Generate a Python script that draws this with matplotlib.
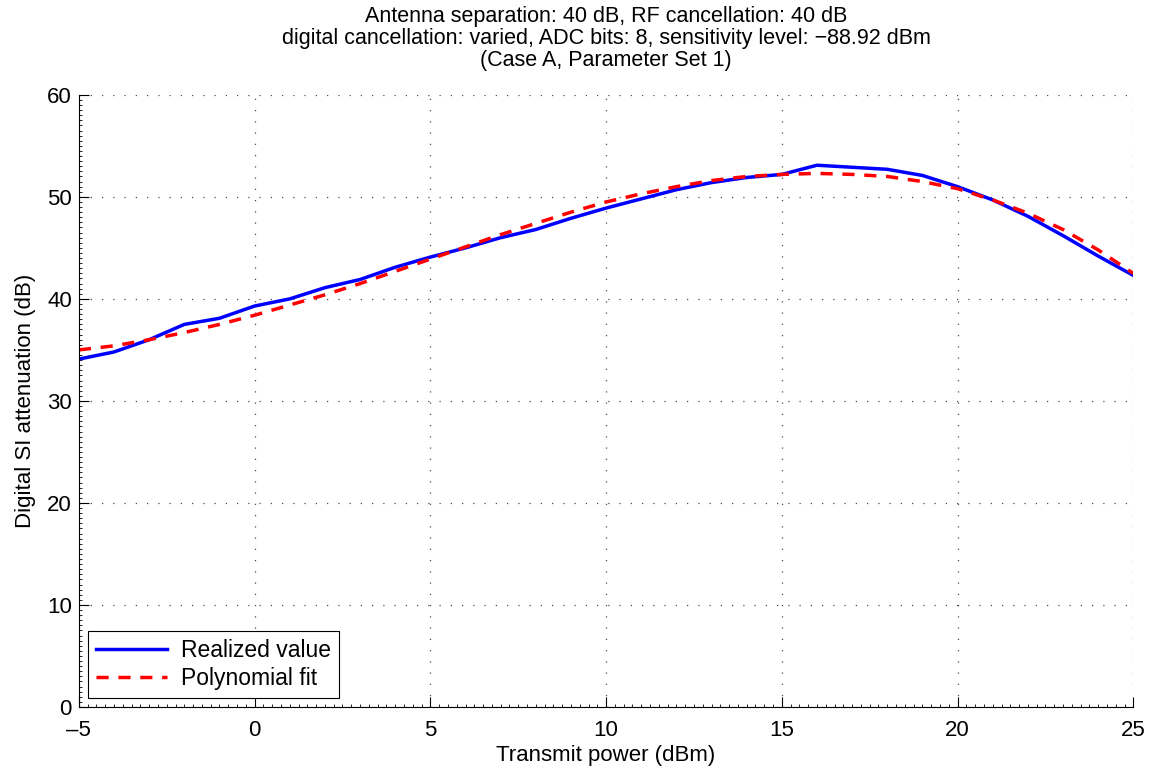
import matplotlib
matplotlib.use("Agg")
import matplotlib.pyplot as plt
from matplotlib.ticker import MultipleLocator

plt.rcParams["font.family"] = ["Liberation Sans", "DejaVu Sans"]

# potencia de transmissao (dBm)
potencia = list(range(-5, 26))

# valor realizado (dB)
realizado = [34.1, 34.8, 36.0, 37.5, 38.1, 39.3, 40.0, 41.1, 41.9, 43.1, 44.1,
             45.0, 46.0, 46.8, 47.9, 48.9, 49.8, 50.7, 51.4, 51.9, 52.2,
             53.1, 52.9, 52.7, 52.1, 51.0, 49.7, 48.1, 46.2, 44.2, 42.3]

# ajuste polinomial (dB)
ajuste = [35.0, 35.4, 36.0, 36.7, 37.5, 38.4, 39.4, 40.4, 41.5, 42.7, 43.9,
          45.1, 46.3, 47.4, 48.5, 49.5, 50.3, 51.0, 51.6, 52.0, 52.2,
          52.3, 52.2, 52.0, 51.5, 50.8, 49.7, 48.4, 46.8, 44.8, 42.5]

titulo = ("Antenna separation: 40 dB, RF cancellation: 40 dB\n"
          "digital cancellation: varied, ADC bits: 8, sensitivity level: \u221288.92 dBm\n"
          "(Case A, Parameter Set 1)")

tam = 16

fig = plt.figure(figsize=(11.6, 7.71), dpi=100)
ax = fig.add_axes([0.068, 0.083, 0.909, 0.794])

ax.plot(potencia, realizado, color="#0000ff", linewidth=2.5, label="Realized value")
ax.plot(potencia, ajuste, color="#ff0000", linewidth=2.5, linestyle=(0, (3.5, 2.8)),
        label="Polynomial fit")

ax.set_xlim(-5, 25)
ax.set_ylim(0, 60)
ax.set_xticks(range(-5, 26, 5))
ax.set_yticks(range(0, 61, 10))
ax.set_xticklabels([str(v).replace("-", "\u2013") for v in range(-5, 26, 5)])
ax.xaxis.set_minor_locator(MultipleLocator(0.25))
ax.yaxis.set_minor_locator(MultipleLocator(0.5))
ax.tick_params(which="major", direction="in", length=7.5, width=0.8, labelsize=tam,
               top=False, right=False, pad=5)
ax.tick_params(axis="x", which="major", pad=9)
ax.tick_params(which="minor", direction="in", length=2.5, width=0.6,
               top=False, right=False)

ax.spines["top"].set_visible(False)
ax.spines["right"].set_visible(False)
ax.grid(True, which="major", color="0.3", linestyle=(0, (1, 8)), linewidth=0.9)

ax.set_xlabel("Transmit power (dBm)", fontsize=tam, labelpad=3)
ax.set_ylabel("Digital SI attenuation (dB)", fontsize=tam, labelpad=8)
ax.set_title(titulo, fontsize=15.5, linespacing=1.05, pad=21)

leg = ax.legend(loc="lower left", fontsize=16.5, fancybox=False, framealpha=1,
                edgecolor="black", handlelength=3.1, borderaxespad=0.4,
                handletextpad=0.6, labelspacing=0.2, borderpad=0.35)
leg.get_frame().set_linewidth(0.8)

fig.savefig("out.png", dpi=100)
